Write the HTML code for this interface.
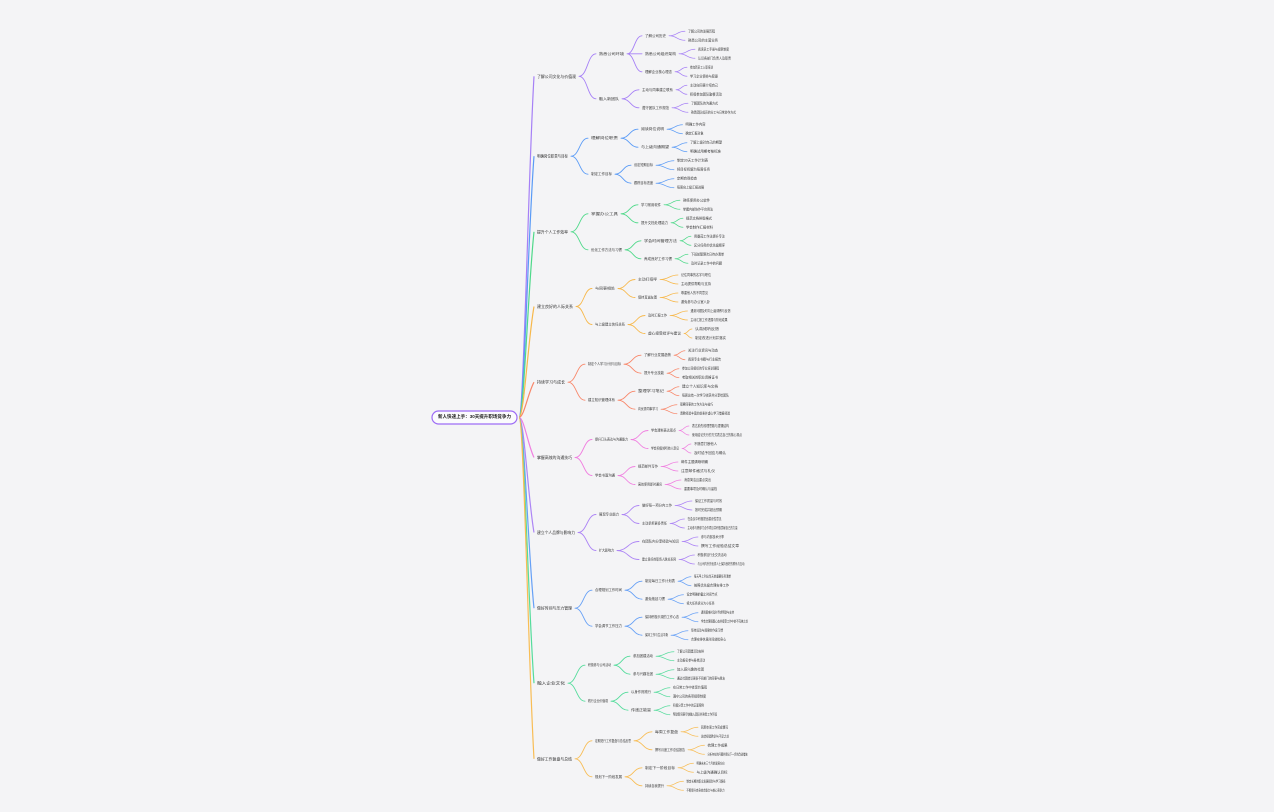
<!DOCTYPE html>
<html><head><meta charset="utf-8"><style>
html,body{margin:0;padding:0;background:#f4f4f6;}
svg{display:block;}
.t{font-family:"Liberation Sans","Noto Sans CJK SC",sans-serif;font-size:3.6px;fill:#3a3a3a;dominant-baseline:central;}
.l1{font-size:3.9px;fill:#2e2e2e;}
.e{fill:none;stroke-width:0.9;stroke-linecap:round;}
.f{fill:none;stroke-width:0.75;stroke-linecap:round;}
.tr{fill:none;stroke-width:1.2;}
</style></head><body>
<svg width="1274" height="812" viewBox="0 0 1274 812" xmlns="http://www.w3.org/2000/svg">
<rect width="1274" height="812" fill="#f4f4f6"/>

<!-- trunks -->
<path class="tr" stroke="#a680f6" d="M519 417.5C524 417.5 528 178.7 534 76.3"/>
<path class="tr" stroke="#5a9bf6" d="M519 417.5C524 417.5 528 234.6 534 156.2"/>
<path class="tr" stroke="#4fd98a" d="M519 417.5C524 417.5 528 287.5 534 231.8"/>
<path class="tr" stroke="#f7b84b" d="M519 417.5C524 417.5 528 339.8 534 306.5"/>
<path class="tr" stroke="#f8876a" d="M519 417.5C524 417.5 528 392.8 534 382.2"/>
<path class="tr" stroke="#f07fe0" d="M519 417.5C524 417.5 528 445.5 534 457.5"/>
<path class="tr" stroke="#ad85f5" d="M519 417.5C524 417.5 528 498 534 532.5"/>
<path class="tr" stroke="#66a0f6" d="M519 417.5C524 417.5 528 551 534 608.2"/>
<path class="tr" stroke="#55dc9c" d="M519 417.5C524 417.5 528 603.5 534 683.2"/>
<path class="tr" stroke="#f8bd55" d="M519 417.5C524 417.5 528 656.4 534 758.8"/>

<!-- root -->
<rect x="432" y="411" width="85" height="13" rx="6.5" fill="#fbfbfd" stroke="#9d6cf5" stroke-width="1.2"/>
<text x="438" y="417.5" textLength="73" lengthAdjust="spacingAndGlyphs" style="font-family:'Liberation Sans','Noto Sans CJK SC',sans-serif;font-size:4.8px;font-weight:bold;fill:#222;dominant-baseline:central">新人快速上手：30天提升职场竞争力</text>

<!-- S1 -->
<path class="e" stroke="#a680f6" d="M579 76.3c8.5 0 8.5 -22.5 17 -22.5M579 76.3c8.5 0 8.5 22.5 17 22.5M627 53.8c7.5 0 7.5 -18 15 -18M627 53.8h15M627 53.8c7.5 0 7.5 18 15 18M622 98.8c8.5 0 8.5 -9 17 -9M622 98.8c8.5 0 8.5 9 17 9"/>
<path class="f" stroke="#a680f6" d="M669 35.8c8 0 8 -4.5 16 -4.5M669 35.8c8 0 8 4.5 16 4.5M679 53.8c8 0 8 -4.5 16 -4.5M679 53.8c8 0 8 4.5 16 4.5M675 71.8c6 0 6 -4.5 12 -4.5M675 71.8c6 0 6 4.5 12 4.5M676 89.8c5.5 0 5.5 -4.5 11 -4.5M676 89.8c5.5 0 5.5 4.5 11 4.5M672 107.8c8 0 8 -4.5 16 -4.5M672 107.8c8 0 8 4.5 16 4.5"/>
<g class="t">
<text class="t l1" x="537" y="76.3" textLength="39" lengthAdjust="spacingAndGlyphs">了解公司文化与价值观</text>
<text class="t" x="599" y="53.8" textLength="25" lengthAdjust="spacingAndGlyphs">熟悉公司环境</text>
<text class="t" x="599" y="98.8" textLength="20" lengthAdjust="spacingAndGlyphs">融入新团队</text>
<text class="t" x="645" y="35.8" textLength="21" lengthAdjust="spacingAndGlyphs">了解公司历史</text>
<text class="t" x="688" y="31.3" textLength="27" lengthAdjust="spacingAndGlyphs">了解公司的发展历程</text>
<text class="t" x="688" y="40.3" textLength="30" lengthAdjust="spacingAndGlyphs">熟悉公司的主营业务</text>
<text class="t" x="645" y="53.8" textLength="31" lengthAdjust="spacingAndGlyphs">熟悉公司组织架构</text>
<text class="t" x="698" y="49.3" textLength="31" lengthAdjust="spacingAndGlyphs">阅读员工手册与规章制度</text>
<text class="t" x="698" y="58.3" textLength="33" lengthAdjust="spacingAndGlyphs">认识各部门负责人及职责</text>
<text class="t" x="645" y="71.8" textLength="27" lengthAdjust="spacingAndGlyphs">理解企业核心理念</text>
<text class="t" x="690" y="67.3" textLength="23" lengthAdjust="spacingAndGlyphs">参加新员工入职培训</text>
<text class="t" x="690" y="76.3" textLength="28" lengthAdjust="spacingAndGlyphs">学习企业使命与愿景</text>
<text class="t" x="642" y="89.8" textLength="31" lengthAdjust="spacingAndGlyphs">主动与同事建立联系</text>
<text class="t" x="690" y="85.3" textLength="28" lengthAdjust="spacingAndGlyphs">主动向同事介绍自己</text>
<text class="t" x="690" y="94.3" textLength="32" lengthAdjust="spacingAndGlyphs">积极参加团队聚餐活动</text>
<text class="t" x="642" y="107.8" textLength="27" lengthAdjust="spacingAndGlyphs">遵守团队工作规范</text>
<text class="t" x="691" y="103.3" textLength="27" lengthAdjust="spacingAndGlyphs">了解团队的沟通方式</text>
<text class="t" x="691" y="112.3" textLength="45" lengthAdjust="spacingAndGlyphs">熟悉团队成员的分工与日常协作方式</text>
</g>

<!-- S2 -->
<path class="e" stroke="#5a9bf6" d="M571 156.2c8.5 0 8.5 -18 17 -18M571 156.2c8.5 0 8.5 18 17 18M621 138.2c8.5 0 8.5 -9 17 -9M621 138.2c8.5 0 8.5 9 17 9M615 174.2c8 0 8 -9 16 -9M615 174.2c8 0 8 9 16 9"/>
<path class="f" stroke="#5a9bf6" d="M667 129.2c7.75 0 7.75 -4.5 15.5 -4.5M667 129.2c7.75 0 7.75 4.5 15.5 4.5M672 147.2c7.5 0 7.5 -4.5 15 -4.5M672 147.2c7.5 0 7.5 4.5 15 4.5M656 165.2c9 0 9 -4.5 18 -4.5M656 165.2c9 0 9 4.5 18 4.5M656 183.2c9 0 9 -4.5 18 -4.5M656 183.2c9 0 9 4.5 18 4.5"/>
<g>
<text class="t l1" x="537" y="156.2" textLength="31" lengthAdjust="spacingAndGlyphs">明确岗位职责与目标</text>
<text class="t" x="591" y="138.2" textLength="27" lengthAdjust="spacingAndGlyphs">理解岗位职责</text>
<text class="t" x="591" y="174.2" textLength="21" lengthAdjust="spacingAndGlyphs">制定工作目标</text>
<text class="t" x="641" y="129.2" textLength="23" lengthAdjust="spacingAndGlyphs">阅读岗位说明</text>
<text class="t" x="685.5" y="124.7" textLength="20" lengthAdjust="spacingAndGlyphs">明确工作内容</text>
<text class="t" x="685.5" y="133.7" textLength="18" lengthAdjust="spacingAndGlyphs">确定汇报对象</text>
<text class="t" x="641" y="147.2" textLength="28" lengthAdjust="spacingAndGlyphs">与上级沟通期望</text>
<text class="t" x="690" y="142.7" textLength="32" lengthAdjust="spacingAndGlyphs">了解上级对自己的期望</text>
<text class="t" x="690" y="151.7" textLength="31" lengthAdjust="spacingAndGlyphs">明确试用期考核标准</text>
<text class="t" x="634" y="165.2" textLength="19" lengthAdjust="spacingAndGlyphs">设定短期目标</text>
<text class="t" x="677" y="160.7" textLength="31" lengthAdjust="spacingAndGlyphs">制定30天工作计划表</text>
<text class="t" x="677" y="169.7" textLength="33" lengthAdjust="spacingAndGlyphs">将目标拆解为每周任务</text>
<text class="t" x="634" y="183.2" textLength="19" lengthAdjust="spacingAndGlyphs">跟踪目标进度</text>
<text class="t" x="677" y="178.7" textLength="20" lengthAdjust="spacingAndGlyphs">定期自我检查</text>
<text class="t" x="677" y="187.7" textLength="27" lengthAdjust="spacingAndGlyphs">每周向上级汇报进展</text>
</g>

<!-- S3 -->
<path class="e" stroke="#4fd98a" d="M571 231.8c8.5 0 8.5 -18 17 -18M571 231.8c8.5 0 8.5 18 17 18M621 213.8c8.5 0 8.5 -9 17 -9M621 213.8c8.5 0 8.5 9 17 9M625 249.8c8 0 8 -9 16 -9M625 249.8c8 0 8 9 16 9"/>
<path class="f" stroke="#4fd98a" d="M664 204.8c8 0 8 -4.5 16 -4.5M664 204.8c8 0 8 4.5 16 4.5M671 222.8c6 0 6 -4.5 12 -4.5M671 222.8c6 0 6 4.5 12 4.5M680 240.8c5.5 0 5.5 -4.5 11 -4.5M680 240.8c5.5 0 5.5 4.5 11 4.5M675 258.8c6.5 0 6.5 -4.5 13 -4.5M675 258.8c6.5 0 6.5 4.5 13 4.5"/>
<g>
<text class="t l1" x="537" y="231.8" textLength="31" lengthAdjust="spacingAndGlyphs">提升个人工作效率</text>
<text class="t" x="591" y="213.8" textLength="27" lengthAdjust="spacingAndGlyphs">掌握办公工具</text>
<text class="t" x="591" y="249.8" textLength="31" lengthAdjust="spacingAndGlyphs">优化工作方法与习惯</text>
<text class="t" x="641" y="204.8" textLength="20" lengthAdjust="spacingAndGlyphs">学习常用软件</text>
<text class="t" x="683" y="200.3" textLength="27" lengthAdjust="spacingAndGlyphs">熟练使用办公软件</text>
<text class="t" x="683" y="209.3" textLength="30" lengthAdjust="spacingAndGlyphs">掌握内部协作平台用法</text>
<text class="t" x="641" y="222.8" textLength="27" lengthAdjust="spacingAndGlyphs">提升文档处理能力</text>
<text class="t" x="686" y="218.3" textLength="26" lengthAdjust="spacingAndGlyphs">规范文档排版格式</text>
<text class="t" x="686" y="227.3" textLength="27" lengthAdjust="spacingAndGlyphs">学会制作汇报材料</text>
<text class="t" x="644" y="240.8" textLength="33" lengthAdjust="spacingAndGlyphs">学会时间管理方法</text>
<text class="t" x="694" y="236.3" textLength="31" lengthAdjust="spacingAndGlyphs">用番茄工作法提升专注</text>
<text class="t" x="694" y="245.3" textLength="31" lengthAdjust="spacingAndGlyphs">区分任务的优先级顺序</text>
<text class="t" x="644" y="258.8" textLength="28" lengthAdjust="spacingAndGlyphs">养成良好工作习惯</text>
<text class="t" x="691" y="254.3" textLength="33" lengthAdjust="spacingAndGlyphs">下班前整理次日待办清单</text>
<text class="t" x="691" y="263.3" textLength="31" lengthAdjust="spacingAndGlyphs">及时记录工作中的问题</text>
</g>

<!-- S4 -->
<path class="e" stroke="#f7b84b" d="M576 306.5c8 0 8 -18 16 -18M576 306.5c8 0 8 18 16 18M618 288.5c8.5 0 8.5 -9 17 -9M618 288.5c8.5 0 8.5 9 17 9M628 324.5c8.5 0 8.5 -9 17 -9M628 324.5c8.5 0 8.5 9 17 9"/>
<path class="f" stroke="#f7b84b" d="M660 279.5c9 0 9 -4.5 18 -4.5M660 279.5c9 0 9 4.5 18 4.5M660 297.5c9 0 9 -4.5 18 -4.5M660 297.5c9 0 9 4.5 18 4.5M670 315.5c8.75 0 8.75 -4.5 17.5 -4.5M670 315.5c8.75 0 8.75 4.5 17.5 4.5M684 333.5c4 0 4 -4.5 8 -4.5M684 333.5c4 0 4 4.5 8 4.5"/>
<g>
<text class="t l1" x="537" y="306.5" textLength="36" lengthAdjust="spacingAndGlyphs">建立良好的人际关系</text>
<text class="t" x="595" y="288.5" textLength="20" lengthAdjust="spacingAndGlyphs">与同事相处</text>
<text class="t" x="595" y="324.5" textLength="30" lengthAdjust="spacingAndGlyphs">与上级建立信任关系</text>
<text class="t" x="638" y="279.5" textLength="19" lengthAdjust="spacingAndGlyphs">主动打招呼</text>
<text class="t" x="681" y="275" textLength="30" lengthAdjust="spacingAndGlyphs">记住同事的名字与职位</text>
<text class="t" x="681" y="284" textLength="30" lengthAdjust="spacingAndGlyphs">主动提供帮助与支持</text>
<text class="t" x="638" y="297.5" textLength="19" lengthAdjust="spacingAndGlyphs">保持真诚友善</text>
<text class="t" x="681" y="293" textLength="27" lengthAdjust="spacingAndGlyphs">尊重他人的不同意见</text>
<text class="t" x="681" y="302" textLength="29" lengthAdjust="spacingAndGlyphs">避免参与办公室八卦</text>
<text class="t" x="648" y="315.5" textLength="19" lengthAdjust="spacingAndGlyphs">及时汇报工作</text>
<text class="t" x="690.5" y="311" textLength="40" lengthAdjust="spacingAndGlyphs">遇到问题及时向上级请教与反馈</text>
<text class="t" x="690.5" y="320" textLength="37" lengthAdjust="spacingAndGlyphs">主动汇报工作进展与阶段成果</text>
<text class="t" x="648" y="333.5" textLength="33" lengthAdjust="spacingAndGlyphs">虚心接受批评与建议</text>
<text class="t" x="695" y="329" textLength="24" lengthAdjust="spacingAndGlyphs">认真倾听反馈</text>
<text class="t" x="695" y="338" textLength="31" lengthAdjust="spacingAndGlyphs">制定改进计划并落实</text>
</g>

<!-- S5 -->
<path class="e" stroke="#f8876a" d="M568 382.2c8.5 0 8.5 -18 17 -18M568 382.2c8.5 0 8.5 18 17 18M624 364.2c8.5 0 8.5 -9 17 -9M624 364.2c8.5 0 8.5 9 17 9M618 400.2c8.5 0 8.5 -9 17 -9M618 400.2c8.5 0 8.5 9 17 9"/>
<path class="f" stroke="#f8876a" d="M674 355.2c5.5 0 5.5 -4.5 11 -4.5M674 355.2c5.5 0 5.5 4.5 11 4.5M667 373.2c6 0 6 -4.5 12 -4.5M667 373.2c6 0 6 4.5 12 4.5M667 391.2c6 0 6 -4.5 12 -4.5M667 391.2c6 0 6 4.5 12 4.5M661 409.2c8 0 8 -4.5 16 -4.5M661 409.2c8 0 8 4.5 16 4.5"/>
<g>
<text class="t l1" x="537" y="382.2" textLength="28" lengthAdjust="spacingAndGlyphs">持续学习与成长</text>
<text class="t" x="588" y="364.2" textLength="33" lengthAdjust="spacingAndGlyphs">制定个人学习计划与目标</text>
<text class="t" x="588" y="400.2" textLength="27" lengthAdjust="spacingAndGlyphs">建立知识管理体系</text>
<text class="t" x="644" y="355.2" textLength="27" lengthAdjust="spacingAndGlyphs">了解行业发展趋势</text>
<text class="t" x="688" y="350.7" textLength="30" lengthAdjust="spacingAndGlyphs">关注行业资讯与动态</text>
<text class="t" x="688" y="359.7" textLength="33" lengthAdjust="spacingAndGlyphs">阅读专业书籍与行业报告</text>
<text class="t" x="644" y="373.2" textLength="20" lengthAdjust="spacingAndGlyphs">提升专业技能</text>
<text class="t" x="682" y="368.7" textLength="37" lengthAdjust="spacingAndGlyphs">参加公司组织的专业培训课程</text>
<text class="t" x="682" y="377.7" textLength="36" lengthAdjust="spacingAndGlyphs">考取相关的职业资格证书</text>
<text class="t" x="638" y="391.2" textLength="26" lengthAdjust="spacingAndGlyphs">整理学习笔记</text>
<text class="t" x="682" y="386.7" textLength="36" lengthAdjust="spacingAndGlyphs">建立个人知识库与文档</text>
<text class="t" x="682" y="395.7" textLength="47" lengthAdjust="spacingAndGlyphs">每周总结一次学习收获并分享给团队</text>
<text class="t" x="638" y="409.2" textLength="20" lengthAdjust="spacingAndGlyphs">向优秀同事学习</text>
<text class="t" x="680" y="404.7" textLength="33" lengthAdjust="spacingAndGlyphs">观察同事的工作方法与技巧</text>
<text class="t" x="680" y="413.7" textLength="50" lengthAdjust="spacingAndGlyphs">请教经验丰富的前辈并虚心学习借鉴经验</text>
</g>

<!-- S6 -->
<path class="e" stroke="#f07fe0" d="M575 457.5c8.5 0 8.5 -18 17 -18M575 457.5c8.5 0 8.5 18 17 18M631 439.5c8.5 0 8.5 -9 17 -9M631 439.5c8.5 0 8.5 9 17 9M618 475.5c8.5 0 8.5 -9 17 -9M618 475.5c8.5 0 8.5 9 17 9"/>
<path class="f" stroke="#f07fe0" d="M679 430.5c5 0 5 -4.5 10 -4.5M679 430.5c5 0 5 4.5 10 4.5M682 448.5c4.5 0 4.5 -4.5 9 -4.5M682 448.5c4.5 0 4.5 4.5 9 4.5M661 466.5c8.5 0 8.5 -4.5 17 -4.5M661 466.5c8.5 0 8.5 4.5 17 4.5M665 484.5c8 0 8 -4.5 16 -4.5M665 484.5c8 0 8 4.5 16 4.5"/>
<g>
<text class="t l1" x="537" y="457.5" textLength="35" lengthAdjust="spacingAndGlyphs">掌握高效的沟通技巧</text>
<text class="t" x="595" y="439.5" textLength="33" lengthAdjust="spacingAndGlyphs">提升口头表达与沟通能力</text>
<text class="t" x="595" y="475.5" textLength="20" lengthAdjust="spacingAndGlyphs">学会书面沟通</text>
<text class="t" x="651" y="430.5" textLength="25" lengthAdjust="spacingAndGlyphs">学会清晰表达观点</text>
<text class="t" x="692" y="426" textLength="37" lengthAdjust="spacingAndGlyphs">表达前先梳理思路与逻辑结构</text>
<text class="t" x="692" y="435" textLength="50" lengthAdjust="spacingAndGlyphs">使用结论先行的方式表达自己的核心观点</text>
<text class="t" x="651" y="448.5" textLength="28" lengthAdjust="spacingAndGlyphs">学会积极倾听他人意见</text>
<text class="t" x="694" y="444" textLength="23" lengthAdjust="spacingAndGlyphs">不随意打断他人</text>
<text class="t" x="694" y="453" textLength="32" lengthAdjust="spacingAndGlyphs">及时给予回应与确认</text>
<text class="t" x="638" y="466.5" textLength="20" lengthAdjust="spacingAndGlyphs">规范邮件写作</text>
<text class="t" x="681" y="462" textLength="27" lengthAdjust="spacingAndGlyphs">邮件主题清晰明确</text>
<text class="t" x="681" y="471" textLength="34" lengthAdjust="spacingAndGlyphs">注意邮件格式与礼仪</text>
<text class="t" x="638" y="484.5" textLength="24" lengthAdjust="spacingAndGlyphs">高效使用即时通讯</text>
<text class="t" x="684" y="480" textLength="27" lengthAdjust="spacingAndGlyphs">消息简洁且重点突出</text>
<text class="t" x="684" y="489" textLength="33" lengthAdjust="spacingAndGlyphs">重要事项及时确认与留档</text>
</g>

<!-- S7 -->
<path class="e" stroke="#ad85f5" d="M578 532.5c9 0 9 -18 18 -18M578 532.5c9 0 9 18 18 18M622 514.5c8.5 0 8.5 -9 17 -9M622 514.5c8.5 0 8.5 9 17 9M617 550.5c11 0 11 -9 22 -9M617 550.5c11 0 11 9 22 9"/>
<path class="f" stroke="#ad85f5" d="M675 505.5c8.5 0 8.5 -4.5 17 -4.5M675 505.5c8.5 0 8.5 4.5 17 4.5M670 523.5c7.25 0 7.25 -4.5 14.5 -4.5M670 523.5c7.25 0 7.25 4.5 14.5 4.5M682 541.5c8 0 8 -4.5 16 -4.5M682 541.5c8 0 8 4.5 16 4.5M679 559.5c7.75 0 7.75 -4.5 15.5 -4.5M679 559.5c7.75 0 7.75 4.5 15.5 4.5"/>
<g>
<text class="t l1" x="537" y="532.5" textLength="38" lengthAdjust="spacingAndGlyphs">建立个人品牌与影响力</text>
<text class="t" x="599" y="514.5" textLength="20" lengthAdjust="spacingAndGlyphs">展现专业能力</text>
<text class="t" x="599" y="550.5" textLength="15" lengthAdjust="spacingAndGlyphs">扩大影响力</text>
<text class="t" x="642" y="505.5" textLength="30" lengthAdjust="spacingAndGlyphs">做好每一项分内工作</text>
<text class="t" x="695" y="501" textLength="27" lengthAdjust="spacingAndGlyphs">保证工作质量与时效</text>
<text class="t" x="695" y="510" textLength="27" lengthAdjust="spacingAndGlyphs">按时完成并超出预期</text>
<text class="t" x="642" y="523.5" textLength="25" lengthAdjust="spacingAndGlyphs">主动承担更多责任</text>
<text class="t" x="687.5" y="519" textLength="34" lengthAdjust="spacingAndGlyphs">在会议中积极提出建设性意见</text>
<text class="t" x="687.5" y="528" textLength="50" lengthAdjust="spacingAndGlyphs">主动参与跨部门合作项目并积极贡献自己的力量</text>
<text class="t" x="642" y="541.5" textLength="37" lengthAdjust="spacingAndGlyphs">在团队内分享经验与知识</text>
<text class="t" x="701" y="537" textLength="23" lengthAdjust="spacingAndGlyphs">参与内部技术分享</text>
<text class="t" x="701" y="546" textLength="38" lengthAdjust="spacingAndGlyphs">撰写工作经验总结文章</text>
<text class="t" x="642" y="559.5" textLength="34" lengthAdjust="spacingAndGlyphs">建立良好的职场人脉关系网</text>
<text class="t" x="697.5" y="555" textLength="29" lengthAdjust="spacingAndGlyphs">积极参加行业交流活动</text>
<text class="t" x="697.5" y="564" textLength="47" lengthAdjust="spacingAndGlyphs">与公司内外的优秀人士保持良好的联系与互动</text>
</g>

<!-- S8 -->
<path class="e" stroke="#66a0f6" d="M575 608.2c8.5 0 8.5 -18 17 -18M575 608.2c8.5 0 8.5 18 17 18M625 590.2c8.5 0 8.5 -9 17 -9M625 590.2c8.5 0 8.5 9 17 9M625 626.2c8.5 0 8.5 -9 17 -9M625 626.2c8.5 0 8.5 9 17 9"/>
<path class="f" stroke="#66a0f6" d="M678 581.2c6.5 0 6.5 -4.5 13 -4.5M678 581.2c6.5 0 6.5 4.5 13 4.5M668 599.2c7.75 0 7.75 -4.5 15.5 -4.5M668 599.2c7.75 0 7.75 4.5 15.5 4.5M682 617.2c8 0 8 -4.5 16 -4.5M682 617.2c8 0 8 4.5 16 4.5M671 635.2c8.5 0 8.5 -4.5 17 -4.5M671 635.2c8.5 0 8.5 4.5 17 4.5"/>
<g>
<text class="t l1" x="537" y="608.2" textLength="35" lengthAdjust="spacingAndGlyphs">做好时间与压力管理</text>
<text class="t" x="595" y="590.2" textLength="27" lengthAdjust="spacingAndGlyphs">合理规划工作时间</text>
<text class="t" x="595" y="626.2" textLength="27" lengthAdjust="spacingAndGlyphs">学会调节工作压力</text>
<text class="t" x="645" y="581.2" textLength="30" lengthAdjust="spacingAndGlyphs">制定每日工作计划表</text>
<text class="t" x="694" y="576.7" textLength="37" lengthAdjust="spacingAndGlyphs">每天早上列出当天的重要任务清单</text>
<text class="t" x="694" y="585.7" textLength="35" lengthAdjust="spacingAndGlyphs">按照优先级合理安排工作</text>
<text class="t" x="645" y="599.2" textLength="20" lengthAdjust="spacingAndGlyphs">避免拖延习惯</text>
<text class="t" x="686.5" y="594.7" textLength="31" lengthAdjust="spacingAndGlyphs">设定明确的截止时间节点</text>
<text class="t" x="686.5" y="603.7" textLength="28" lengthAdjust="spacingAndGlyphs">将大任务拆分为小任务</text>
<text class="t" x="645" y="617.2" textLength="34" lengthAdjust="spacingAndGlyphs">保持积极乐观的工作心态</text>
<text class="t" x="701" y="612.7" textLength="33" lengthAdjust="spacingAndGlyphs">遇到困难时及时寻求帮助与支持</text>
<text class="t" x="701" y="621.7" textLength="47" lengthAdjust="spacingAndGlyphs">学会合理调整心态并接受工作中的不完美之处</text>
<text class="t" x="645" y="635.2" textLength="23" lengthAdjust="spacingAndGlyphs">保持工作与生活平衡</text>
<text class="t" x="691" y="630.7" textLength="32" lengthAdjust="spacingAndGlyphs">坚持运动与规律的作息习惯</text>
<text class="t" x="691" y="639.7" textLength="35" lengthAdjust="spacingAndGlyphs">合理安排休息时间放松身心</text>
</g>

<!-- S9 -->
<path class="e" stroke="#55dc9c" d="M568 683.2c8.5 0 8.5 -18 17 -18M568 683.2c8.5 0 8.5 18 17 18M614 665.2c8 0 8 -9 16 -9M614 665.2c8 0 8 9 16 9M611 701.2c8.5 0 8.5 -9 17 -9M611 701.2c8.5 0 8.5 9 17 9"/>
<path class="f" stroke="#55dc9c" d="M656 656.2c9 0 9 -4.5 18 -4.5M656 656.2c9 0 9 4.5 18 4.5M656 674.2c9 0 9 -4.5 18 -4.5M656 674.2c9 0 9 4.5 18 4.5M654 692.2c8 0 8 -4.5 16 -4.5M654 692.2c8 0 8 4.5 16 4.5M654 710.2c8 0 8 -4.5 16 -4.5M654 710.2c8 0 8 4.5 16 4.5"/>
<g>
<text class="t l1" x="537" y="683.2" textLength="28" lengthAdjust="spacingAndGlyphs">融入企业文化</text>
<text class="t" x="588" y="665.2" textLength="23" lengthAdjust="spacingAndGlyphs">积极参与公司活动</text>
<text class="t" x="588" y="701.2" textLength="20" lengthAdjust="spacingAndGlyphs">践行企业价值观</text>
<text class="t" x="633" y="656.2" textLength="20" lengthAdjust="spacingAndGlyphs">参加团建活动</text>
<text class="t" x="677" y="651.7" textLength="27" lengthAdjust="spacingAndGlyphs">了解公司团建活动安排</text>
<text class="t" x="677" y="660.7" textLength="28" lengthAdjust="spacingAndGlyphs">主动报名参与各类活动</text>
<text class="t" x="633" y="674.2" textLength="20" lengthAdjust="spacingAndGlyphs">参与兴趣社团</text>
<text class="t" x="677" y="669.7" textLength="27" lengthAdjust="spacingAndGlyphs">加入感兴趣的社团</text>
<text class="t" x="677" y="678.7" textLength="48" lengthAdjust="spacingAndGlyphs">通过社团结识更多不同部门的同事与朋友</text>
<text class="t" x="631" y="692.2" textLength="20" lengthAdjust="spacingAndGlyphs">以身作则践行</text>
<text class="t" x="673" y="687.7" textLength="34" lengthAdjust="spacingAndGlyphs">在日常工作中体现价值观</text>
<text class="t" x="673" y="696.7" textLength="33" lengthAdjust="spacingAndGlyphs">遵守公司的各项规章制度</text>
<text class="t" x="631" y="710.2" textLength="20" lengthAdjust="spacingAndGlyphs">传递正能量</text>
<text class="t" x="673" y="705.7" textLength="31" lengthAdjust="spacingAndGlyphs">积极分享工作中的正面案例</text>
<text class="t" x="673" y="714.7" textLength="44" lengthAdjust="spacingAndGlyphs">帮助新同事尽快融入团队并熟悉工作环境</text>
</g>

<!-- S10 -->
<path class="e" stroke="#f8bd55" d="M575 758.8c8.5 0 8.5 -18 17 -18M575 758.8c8.5 0 8.5 18 17 18M634 740.8c9 0 9 -9 18 -9M634 740.8c9 0 9 9 18 9M625 776.8c8.5 0 8.5 -9 17 -9M625 776.8c8.5 0 8.5 9 17 9"/>
<path class="f" stroke="#f8bd55" d="M681 731.8c8.5 0 8.5 -4.5 17 -4.5M681 731.8c8.5 0 8.5 4.5 17 4.5M688 749.8c8.25 0 8.25 -4.5 16.5 -4.5M688 749.8c8.25 0 8.25 4.5 16.5 4.5M678 767.8c7.75 0 7.75 -4.5 15.5 -4.5M678 767.8c7.75 0 7.75 4.5 15.5 4.5M667 785.8c8.25 0 8.25 -4.5 16.5 -4.5M667 785.8c8.25 0 8.25 4.5 16.5 4.5"/>
<g>
<text class="t l1" x="537" y="758.8" textLength="35" lengthAdjust="spacingAndGlyphs">做好工作复盘与总结</text>
<text class="t" x="595" y="740.8" textLength="36" lengthAdjust="spacingAndGlyphs">定期进行工作复盘与总结反思</text>
<text class="t" x="595" y="776.8" textLength="27" lengthAdjust="spacingAndGlyphs">规划下一阶段发展</text>
<text class="t" x="655" y="731.8" textLength="23" lengthAdjust="spacingAndGlyphs">每周工作复盘</text>
<text class="t" x="701" y="727.3" textLength="27" lengthAdjust="spacingAndGlyphs">回顾本周工作完成情况</text>
<text class="t" x="701" y="736.3" textLength="28" lengthAdjust="spacingAndGlyphs">总结经验教训与不足之处</text>
<text class="t" x="655" y="749.8" textLength="30" lengthAdjust="spacingAndGlyphs">撰写月度工作总结报告</text>
<text class="t" x="707.5" y="745.3" textLength="20" lengthAdjust="spacingAndGlyphs">梳理工作成果</text>
<text class="t" x="707.5" y="754.3" textLength="40" lengthAdjust="spacingAndGlyphs">分析存在的问题并提出下一步的改进措施</text>
<text class="t" x="645" y="767.8" textLength="30" lengthAdjust="spacingAndGlyphs">制定下一阶段目标</text>
<text class="t" x="696.5" y="763.3" textLength="28" lengthAdjust="spacingAndGlyphs">明确未来三个月的发展方向</text>
<text class="t" x="696.5" y="772.3" textLength="31" lengthAdjust="spacingAndGlyphs">与上级沟通确认目标</text>
<text class="t" x="645" y="785.8" textLength="19" lengthAdjust="spacingAndGlyphs">持续自我提升</text>
<text class="t" x="686.5" y="781.3" textLength="39" lengthAdjust="spacingAndGlyphs">制定长期的职业发展规划与学习路径</text>
<text class="t" x="686.5" y="790.3" textLength="38" lengthAdjust="spacingAndGlyphs">不断提升自身综合能力与核心竞争力</text>
</g>
</svg>
</body></html>
